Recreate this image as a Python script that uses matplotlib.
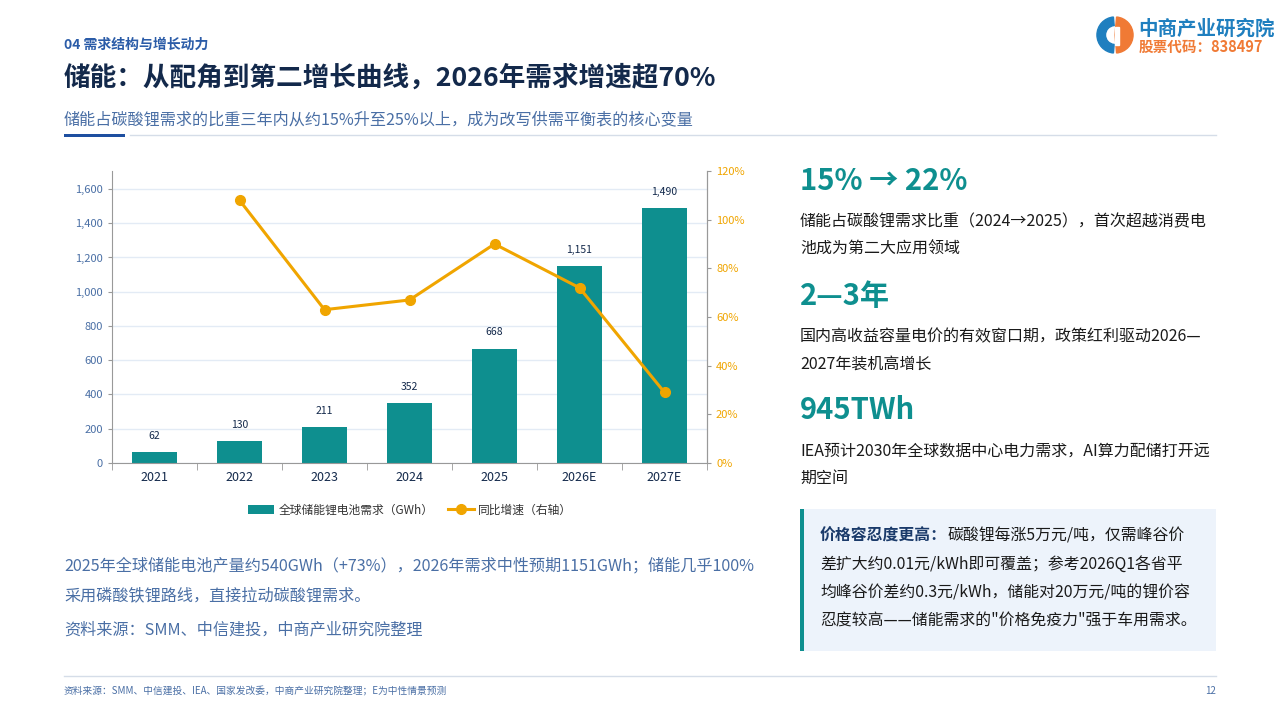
import matplotlib
matplotlib.use("Agg")
import matplotlib.pyplot as plt
import numpy as np
from matplotlib.patches import Rectangle, Wedge
from matplotlib.lines import Line2D
from matplotlib.patches import Patch

plt.rcParams['font.family'] = ['Noto Sans CJK SC', 'DejaVu Sans']

years = ['2021', '2022', '2023', '2024', '2025', '2026E', '2027E']
demand = [62, 130, 211, 352, 668, 1151, 1490]
growth = [np.nan, 108, 63, 67, 90, 72, 29]
left_ticks = [0, 200, 400, 600, 800, 1000, 1200, 1400, 1600]
right_ticks = [0, 20, 40, 60, 80, 100, 120]

TEAL = '#0e8f8f'
ORANGE = '#f0a500'
NAVY = '#13294b'
BLUEGRAY = '#4a6fa5'

W, H = 1280, 720
fig = plt.figure(figsize=(12.8, 7.2), dpi=100)

def fx(x):
    return x / W

def fy(y):
    return 1 - y / H

# Header
fig.text(fx(64), fy(45), '04 需求结构与增长动力', fontsize=10, color='#2b5ca8', fontweight='bold', va='center')
fig.text(fx(64), fy(78), '储能：从配角到第二增长曲线，2026年需求增速超70%', fontsize=19.2,
         color=NAVY, fontweight='bold', va='center')
fig.text(fx(64), fy(120), '储能占碳酸锂需求的比重三年内从约15%升至25%以上，成为改写供需平衡表的核心变量',
         fontsize=11.6, color=BLUEGRAY, va='center')
fig.add_artist(Line2D([fx(130), fx(1216)], [fy(135), fy(135)], color='#d5dde8', lw=1))
fig.add_artist(Rectangle((fx(64), fy(136.5)), fx(61), 3 / H, color='#1e4fa0', lw=0))

# Logo
lax = fig.add_axes([fx(1096), fy(54), fx(38), 38 / H])
lax.set_xlim(-1, 1)
lax.set_ylim(-1, 1)
lax.set_aspect('equal')
lax.axis('off')
lax.add_patch(Wedge((0, 0), 0.95, 95, 265, width=0.45, color='#1f7fbf'))
lax.add_patch(Wedge((0, 0), 0.95, -85, 85, width=0.95, color='#f07a35'))
lax.add_patch(Rectangle((-0.02, -0.55), 0.22, 0.95, color='white'))
fig.text(fx(1138), fy(29), '中商产业研究院', fontsize=14, color='#1f7fbf', fontweight='bold', va='center')
fig.text(fx(1139), fy(47), '股票代码：838497', fontsize=10.5, color='#f07a35', fontweight='bold', va='center')

# Chart
ax = fig.add_axes([fx(112), fy(463), fx(707 - 112), (463 - 171) / H])
x = np.arange(len(years))
bars = ax.bar(x, demand, width=0.52, color=TEAL, zorder=2)
ax.set_ylim(0, 1705)
ax.set_xlim(-0.5, len(years) - 0.5)
ax.set_yticks(left_ticks)
ax.set_yticklabels([f'{v:,}' for v in left_ticks])
ax.yaxis.grid(True, color='#e3ebf5', lw=1)
ax.set_axisbelow(True)
ax.tick_params(axis='y', colors=BLUEGRAY, labelsize=8, length=3, color='#999999')
ax.set_xticks(x)
ax.set_xticklabels(years)
ax.tick_params(axis='x', labelsize=9, labelcolor=NAVY, length=0, pad=6)
ax.set_xticks(np.arange(-0.5, len(years), 1), minor=True)
ax.tick_params(axis='x', which='minor', length=5, color='#999999')
for s in ['top']:
    ax.spines[s].set_visible(False)
for s in ['left', 'bottom', 'right']:
    ax.spines[s].set_color('#999999')
for xi, v in zip(x, demand):
    ax.annotate(f'{v:,}', (xi, v), xytext=(0, 8), textcoords='offset points',
                ha='center', va='bottom', fontsize=7.5, color=NAVY)

ax2 = ax.twinx()
ax2.set_ylim(0, 120)
ax2.set_yticks(right_ticks)
ax2.set_yticklabels([f'{v}%' for v in right_ticks])
ax2.tick_params(axis='y', colors=ORANGE, labelsize=8, length=3)
ax2.tick_params(axis='y', color='#999999')
for s in ['top', 'left', 'bottom']:
    ax2.spines[s].set_visible(False)
ax2.spines['right'].set_color('#999999')
ax2.plot(x, growth, color=ORANGE, lw=2.2, marker='o', markersize=7, zorder=3)

handles = [Patch(facecolor=TEAL, edgecolor='none', label='全球储能锂电池需求（GWh）'),
           Line2D([0], [0], color=ORANGE, lw=2.2, marker='o', markersize=7, label='同比增速（右轴）')]
fig.legend(handles=handles, loc='center', bbox_to_anchor=(fx(410), fy(510)), ncol=2, frameon=False,
           fontsize=8.5, labelcolor='#333333', handlelength=2.2, columnspacing=1.2, handletextpad=0.4)

# Notes under chart
fig.text(fx(64), fy(566), '2025年全球储能电池产量约540GWh（+73%），2026年需求中性预期1151GWh；储能几乎100%',
         fontsize=11.6, color=BLUEGRAY, va='center')
fig.text(fx(64), fy(596), '采用磷酸铁锂路线，直接拉动碳酸锂需求。', fontsize=11.6, color=BLUEGRAY, va='center')
fig.text(fx(64), fy(630), '资料来源：SMM、中信建投，中商产业研究院整理', fontsize=11.6, color=BLUEGRAY, va='center')

# Footer
fig.add_artist(Line2D([fx(64), fx(1216)], [fy(676), fy(676)], color='#d5dde8', lw=1))
fig.text(fx(64), fy(691), '资料来源：SMM、中信建投、IEA、国家发改委，中商产业研究院整理；E为中性情景预测',
         fontsize=7, color=BLUEGRAY, va='center')
fig.text(fx(1216), fy(691), '12', fontsize=7, color=BLUEGRAY, va='center', ha='right')

# Right panel
stats = [
    ('15% → 22%', 181, ['储能占碳酸锂需求比重（2024→2025），首次超越消费电', '池成为第二大应用领域'], 222),
    ('2—3年', 296, ['国内高收益容量电价的有效窗口期，政策红利驱动2026—', '2027年装机高增长'], 337),
    ('945TWh', 410, ['IEA预计2030年全球数据中心电力需求，AI算力配储打开远', '期空间'], 451),
]
for big, by, lines, ly in stats:
    fig.text(fx(800), fy(by), big, fontsize=21, color=TEAL, fontweight='bold', va='center')
    for i, ln in enumerate(lines):
        fig.text(fx(800), fy(ly + 27 * i), ln, fontsize=11.5, color='#1a1a1a', va='center')

# Box
fig.add_artist(Rectangle((fx(800), fy(651)), fx(416), (651 - 509) / H, color='#edf3fb', lw=0))
fig.add_artist(Rectangle((fx(800), fy(651)), fx(4), (651 - 509) / H, color=TEAL, lw=0))
t_bold = fig.text(fx(820), fy(536), '价格容忍度更高：', fontsize=11.4, color='#1a3a6a', fontweight='bold', va='center')
fig.canvas.draw()
bb = t_bold.get_window_extent(renderer=fig.canvas.get_renderer())
fig.text(bb.x1 / fig.bbox.width, fy(536), '碳酸锂每涨5万元/吨，仅需峰谷价', fontsize=11.4, color='#1a1a1a', va='center')
box_lines = ['差扩大约0.01元/kWh即可覆盖；参考2026Q1各省平',
             '均峰谷价差约0.3元/kWh，储能对20万元/吨的锂价容',
             '忍度较高——储能需求的"价格免疫力"强于车用需求。']
for i, ln in enumerate(box_lines):
    fig.text(fx(820), fy(564 + 28.5 * i), ln, fontsize=11.4, color='#1a1a1a', va='center')

fig.savefig('out.png', dpi=100)
